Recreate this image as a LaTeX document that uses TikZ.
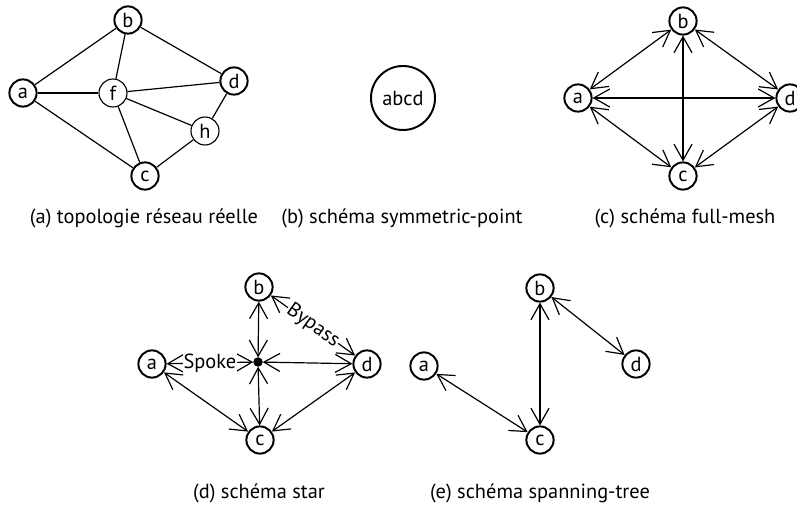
\documentclass[tikz,border=0pt]{standalone}
\usepackage{fontspec}
\setmainfont{PT Sans}
\usetikzlibrary{arrows.meta}

\begin{document}
\begin{tikzpicture}[x=0.025cm, y=-0.025cm, font=\fontsize{14.5}{17}\selectfont,
		sw/.style={circle, draw=black, line width=1.4pt, fill=white, minimum size=0.68cm, inner sep=0pt},
		rt/.style={circle, draw=black, line width=0.8pt, fill=white, minimum size=0.7cm, inner sep=0pt},
		hub/.style={circle, draw=black, fill=black, minimum size=0.22cm, inner sep=0pt},
		captext/.style={inner sep=0pt},
		every edge/.style={draw=black, line width=0.85pt},
		>={Straight Barb[length=4mm, width=4.5mm]}]
		\useasboundingbox (0,0) rectangle (797,511);
		
		% (a)
		\node[sw] (a1) at (23,93){a};
		\node[sw] (b1) at (128,20){b};
		\node[rt] (f) at (113,93){f};
		\node[sw] (d1) at (234,81){d};
		\node[rt] (h) at (205,131){h};
		\node[sw] (c1) at (145,176){c};
		
		\path (a1) edge (b1);
		\path (a1) edge (f);
		\path (a1) edge (c1);
		\path (b1) edge (f);
		\path (b1) edge (d1);
		\path (f) edge (d1);
		\path (f) edge (h);
		\path (f) edge (c1);
		\path (h) edge (d1);
		\path (h) edge (c1);
		\node[captext] (capa) at (144,218){(a) topologie réseau réelle};
		
		% (b)
		\node[circle, draw=black, line width=1.4pt, minimum size=1.6cm, inner sep=0pt] (abcd) at (403,98){abcd};
		\node[captext] (capb) at (402,218){(b) schéma symmetric-point};
		
		% (c)
		\node[sw] (a2) at (578,98){a};
		\node[sw] (b2) at (683,21){b};
		\node[sw] (d2) at (790,98){d};
		\node[sw] (c2) at (683,176){c};
		
		\path (a2) edge[<->] (b2);
		\path (b2) edge[<->] (d2);
		\path (a2) edge[<->] (d2);
		\path (b2) edge[<->] (c2);
		\path (a2) edge[<->] (c2);
		\path (c2) edge[<->] (d2);
		\node[captext] (capc) at (685,218){(c) schéma full-mesh};
		
		% (d)
		\node[sw] (a3) at (152,364){a};
		\node[sw] (b3) at (259,287){b};
		\node[hub] (s) at (258,362){};
		\node[sw] (d3) at (367,364){d};
		\node[sw] (c3) at (260,440){c};
		
		\path (a3) edge[<->] node[fill=white, inner sep=0.5pt]{Spoke} (s);
		\path (b3) edge[<->] (s);
		\path (s) edge[<->] (d3);
		\path (s) edge[<->] (c3);
		\path (a3) edge[<->] (c3);
		\path (c3) edge[<->] (d3);
		\path (b3) edge[<->] node[sloped, fill=white, inner sep=0.5pt]{Bypass} (d3);
		\node[captext] (capd) at (259,493){(d) schéma star};
		
		% (e)
		\node[sw] (a4) at (424,366){a};
		\node[sw] (b4) at (540,288){b};
		\node[sw] (d4) at (636,364){d};
		\node[sw] (c4) at (540,440){c};
		
		\path (b4) edge[<->] (c4);
		\path (b4) edge[<->] (d4);
		\path (a4) edge[<->] (c4);
		\node[captext] (cape) at (540,493){(e) schéma spanning-tree};
\end{tikzpicture}
\end{document}
